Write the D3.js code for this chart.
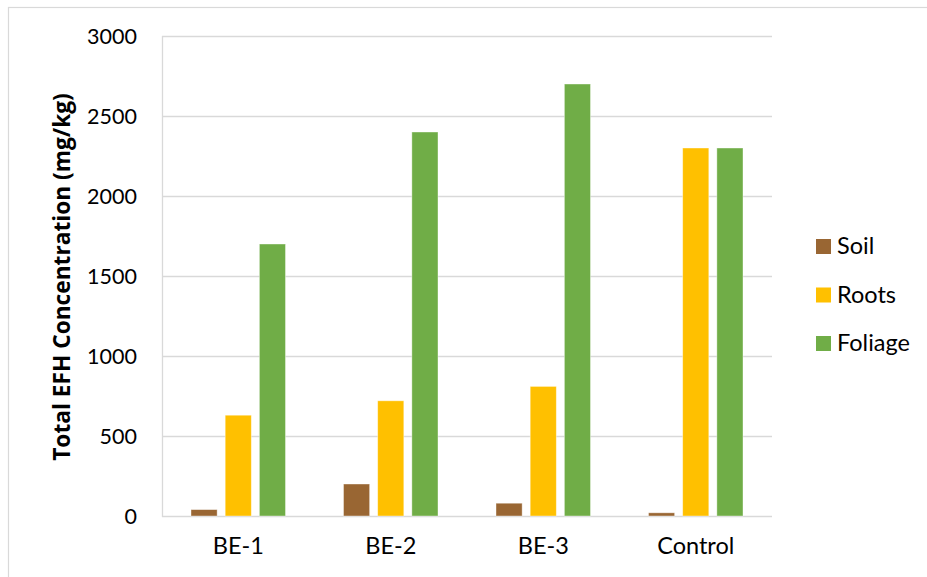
<!DOCTYPE html>
<html><head><meta charset="utf-8">
<script src="https://cdn.jsdelivr.net/npm/d3@7"></script>
<style>body{margin:0;background:#fff}svg{display:block}</style>
</head><body>
<svg id="c" width="927" height="577"></svg>
<script>
const categories = ["BE-1", "BE-2", "BE-3", "Control"];
const seriesNames = ["Soil", "Roots", "Foliage"];
const soil = [40, 200, 80, 20];
const roots = [630, 720, 810, 2300];
const foliage = [1700, 2400, 2700, 2300];
const yTicks = [0, 500, 1000, 1500, 2000, 2500, 3000];
const colors = ["#996633", "#FFC000", "#70AD47"];
const yTitle = "Total EFH Concentration (mg/kg)";

const values = [soil, roots, foliage];
const svg = d3.select("#c");
const L = 162, R = 772, T = 36, B = 516;
const fontTick = "Lato, 'Open Sans', sans-serif";

svg.append("rect").attr("x", 8.5).attr("y", 7.5).attr("width", 940).attr("height", 600)
  .attr("fill", "#fff").attr("stroke", "#d9d9d9").attr("stroke-width", 1.2);

const y = d3.scaleLinear().domain([0, 3000]).range([B, T]);
const x0 = d3.scaleBand().domain(categories).range([L, R]).paddingInner(0).paddingOuter(0);
const x1 = d3.scaleBand().domain(seriesNames).range([29, x0.bandwidth() - 29]).paddingInner(0.235);

// gridlines
svg.append("g").selectAll("line").data(yTicks).join("line")
  .attr("x1", L).attr("x2", R).attr("y1", d => Math.round(y(d)) + 0.5).attr("y2", d => Math.round(y(d)) + 0.5)
  .attr("stroke", "#d9d9d9").attr("stroke-width", 1.3);
svg.append("line").attr("x1", L + 0.5).attr("x2", L + 0.5).attr("y1", T).attr("y2", B + 1)
  .attr("stroke", "#d9d9d9").attr("stroke-width", 1.3);

// y axis labels
const yAxis = d3.axisLeft(y).tickValues(yTicks).tickSize(0).tickPadding(25).tickFormat(d3.format("d"));
const ga = svg.append("g").attr("transform", `translate(${L},0)`).call(yAxis);
ga.select(".domain").remove();
ga.selectAll("text").attr("font-family", fontTick).attr("font-size", 21.5).attr("fill", "#000").attr("dy", "0.35em");

// x axis labels
const xAxis = d3.axisBottom(x0).tickSize(0).tickPadding(21);
const gx = svg.append("g").attr("transform", `translate(0,${B})`).call(xAxis);
gx.select(".domain").remove();
gx.selectAll("text").attr("font-family", fontTick).attr("font-size", 23.5).attr("fill", "#000");

// bars
const groups = svg.append("g").selectAll("g").data(categories).join("g")
  .attr("transform", d => `translate(${x0(d)},0)`);
groups.selectAll("rect").data((c, i) => seriesNames.map((s, j) => ({s, j, v: values[j][i]}))).join("rect")
  .attr("x", d => x1(d.s)).attr("width", x1.bandwidth())
  .attr("y", d => y(d.v)).attr("height", d => y(0) - y(d.v))
  .attr("fill", d => colors[d.j]).attr("stroke", "#fff").attr("stroke-opacity", 0.5).attr("stroke-width", 0.8);

// y title
svg.append("text").attr("transform", "translate(70,277) rotate(-90)")
  .attr("text-anchor", "middle").attr("font-family", "'Open Sans', sans-serif").attr("font-weight", "bold")
  .attr("font-size", 22.7).attr("fill", "#000").text(yTitle);

// legend
const lg = svg.append("g").selectAll("g").data(seriesNames).join("g")
  .attr("transform", (d, i) => `translate(816,${246 + i * 48.5})`);
lg.append("rect").attr("x", 0).attr("y", -7).attr("width", 15).attr("height", 15).attr("fill", (d, i) => colors[i]);
lg.append("text").attr("x", 21).attr("y", 0).attr("dy", "0.35em").attr("font-family", fontTick)
  .attr("font-size", 23.5).attr("fill", "#000").text(d => d);
</script>
</body></html>
